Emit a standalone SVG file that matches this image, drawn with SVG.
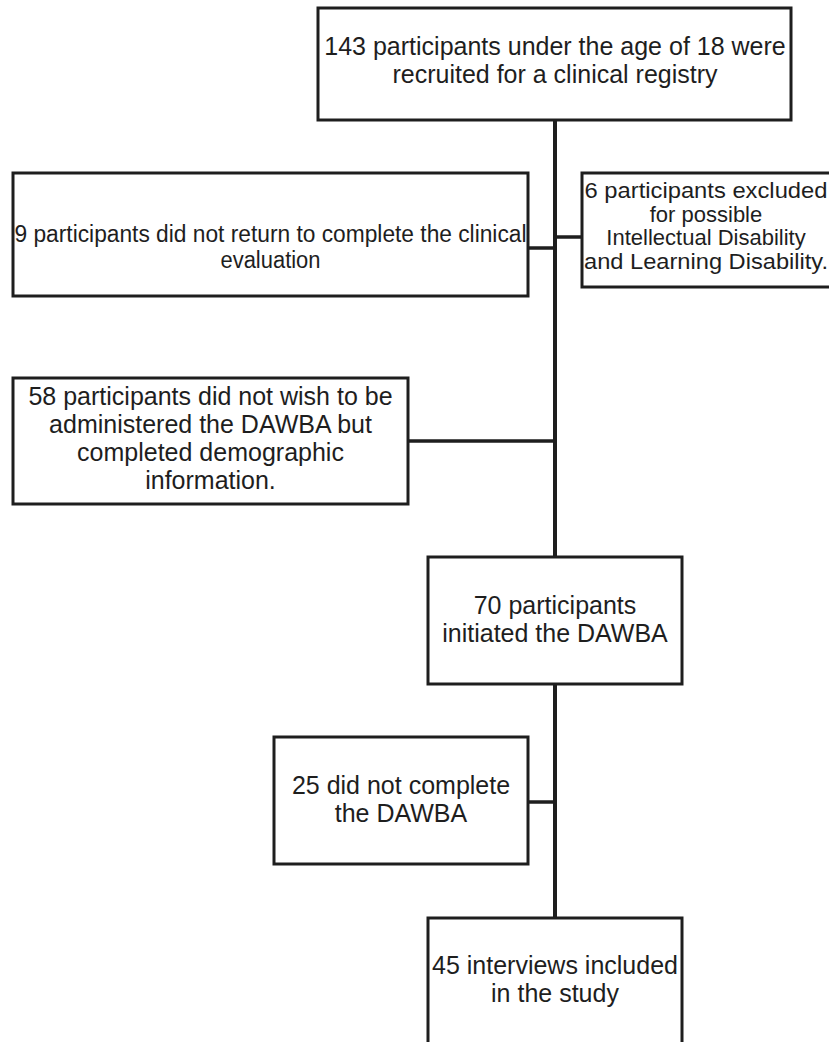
<svg xmlns="http://www.w3.org/2000/svg" width="829" height="1042" viewBox="0 0 829 1042">
<style>
.box{fill:#fff;stroke:#1e1e1e;stroke-width:3}
.t{font-family:"Liberation Sans",Arial,Helvetica,sans-serif;font-size:25px;fill:#1e1e1e;text-anchor:middle}
.n{font-size:23px}
.r{font-size:22px}
.c{stroke:#1e1e1e;fill:none}
</style>
<rect width="829" height="1042" fill="#fff"/>
<g id="connectors">
<line class="c" x1="555" y1="120" x2="555" y2="557" stroke-width="4"/>
<line class="c" x1="555" y1="684" x2="555" y2="918" stroke-width="4"/>
<line class="c" x1="528" y1="248" x2="555" y2="248" stroke-width="3.5"/>
<line class="c" x1="555" y1="237" x2="582" y2="237" stroke-width="3.5"/>
<line class="c" x1="408" y1="441" x2="555" y2="441" stroke-width="3.5"/>
<line class="c" x1="528" y1="802" x2="555" y2="802" stroke-width="3.5"/>
</g>
<g id="n143">
<rect class="box" x="318" y="8" width="473" height="112"/>
<text class="t" x="555" y="55">143 participants under the age of 18 were</text>
<text class="t" x="555" y="83">recruited for a clinical registry</text>
</g>
<g id="n9">
<rect class="box" x="13" y="173" width="515" height="123"/>
<text class="t n" x="270.5" y="242" textLength="512" lengthAdjust="spacingAndGlyphs">9 participants did not return to complete the clinical</text>
<text class="t n" x="270.5" y="268" textLength="100" lengthAdjust="spacingAndGlyphs">evaluation</text>
</g>
<g id="n6">
<rect class="box" x="582" y="173" width="250" height="114"/>
<text class="t r" x="706" y="198" textLength="243" lengthAdjust="spacingAndGlyphs">6 participants excluded</text>
<text class="t r" x="706" y="221.5">for possible</text>
<text class="t r" x="706" y="245">Intellectual Disability</text>
<text class="t r" x="706" y="268.5" textLength="244" lengthAdjust="spacingAndGlyphs">and Learning Disability.</text>
</g>
<g id="n58">
<rect class="box" x="13" y="378" width="395" height="126"/>
<text class="t" x="210.5" y="405">58 participants did not wish to be</text>
<text class="t" x="210.5" y="433">administered the DAWBA but</text>
<text class="t" x="210.5" y="461">completed demographic</text>
<text class="t" x="210.5" y="489">information.</text>
</g>
<g id="n70">
<rect class="box" x="428" y="557" width="254" height="127"/>
<text class="t" x="555" y="614">70 participants</text>
<text class="t" x="555" y="642">initiated the DAWBA</text>
</g>
<g id="n25">
<rect class="box" x="274" y="737" width="254" height="127"/>
<text class="t" x="401" y="794">25 did not complete</text>
<text class="t" x="401" y="822">the DAWBA</text>
</g>
<g id="n45">
<rect class="box" x="428" y="918" width="254" height="140"/>
<text class="t" x="555" y="974">45 interviews included</text>
<text class="t" x="555" y="1002">in the study</text>
</g>
</svg>
